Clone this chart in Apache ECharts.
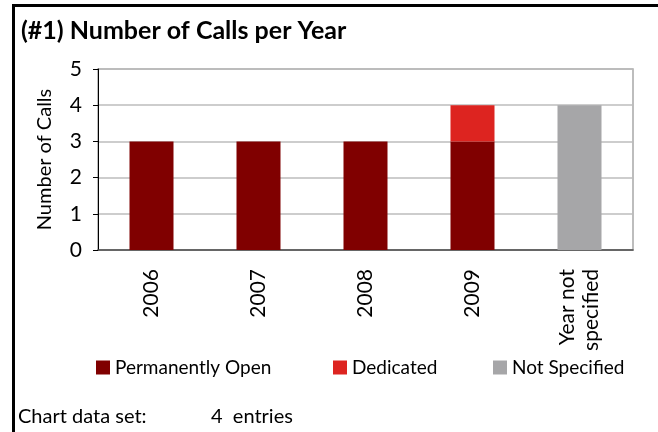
<!DOCTYPE html>
<html>
<head>
<meta charset="utf-8">
<script src="https://cdn.jsdelivr.net/npm/echarts@6/dist/echarts.min.js"></script>
<style>
  html, body { margin: 0; padding: 0; background: #fff; }
  #chart { width: 658px; height: 432px; }
</style>
</head>
<body>
<div id="chart"></div>
<script>
// Calls per year, stacked by call type
const categories = ['2006', '2007', '2008', '2009', 'Year not\nspecified'];
const permanentlyOpen = [3, 3, 3, 3, 0];
const dedicated = [0, 0, 0, 1, 0];
const notSpecified = [0, 0, 0, 0, 4];
const yTicks = [0, 1, 2, 3, 4, 5];
const seriesNames = ['Permanently Open', 'Dedicated', 'Not Specified'];
const entryCount = 4;

const FONT = 'Lato, "Open Sans", sans-serif';
const colors = ['#800000', '#DD2420', '#A6A6A8'];

const chart = echarts.init(document.getElementById('chart'), null, { renderer: 'canvas' });

function legendAt(name, left) {
  return {
    data: [name],
    left: left,
    top: 353,
    icon: 'rect',
    itemWidth: 14,
    itemHeight: 14,
    itemGap: 6,
    textStyle: { fontFamily: FONT, fontSize: 19, color: '#000', padding: [0, 0, 0, 0] },
    selectedMode: false
  };
}

chart.setOption({
  backgroundColor: '#fff',
  animation: false,
  title: {
    text: '(#1) Number of Calls per Year',
    left: 16,
    top: 13,
    textStyle: { fontFamily: FONT, fontSize: 25, fontWeight: 'bold', color: '#000' }
  },
  legend: [
    legendAt(seriesNames[0], 91),
    legendAt(seriesNames[1], 328),
    legendAt(seriesNames[2], 488)
  ],
  grid: {
    left: 98, top: 69, right: 25, bottom: 182,
    show: true, borderColor: '#A8A8A8', borderWidth: 1.5
  },
  xAxis: {
    type: 'category',
    data: categories,
    axisLine: { lineStyle: { color: '#4a4a4a', width: 1.5 } },
    axisTick: { show: false },
    axisLabel: {
      rotate: 90,
      margin: 19,
      fontFamily: FONT,
      fontSize: 21,
      color: '#000',
      lineHeight: 24,
      align: 'right',
      verticalAlign: 'middle'
    }
  },
  yAxis: {
    type: 'value',
    min: yTicks[0],
    max: yTicks[yTicks.length - 1],
    interval: 1,
    name: 'Number of Calls',
    nameLocation: 'middle',
    nameRotate: 90,
    nameGap: 43,
    nameTextStyle: { fontFamily: FONT, fontSize: 20, color: '#000' },
    axisLine: { show: true, lineStyle: { color: '#000', width: 1 } },
    axisTick: { show: true, length: 5, lineStyle: { color: '#000' } },
    axisLabel: { margin: 16, fontFamily: FONT, fontSize: 21, color: '#000' },
    splitLine: { lineStyle: { color: '#BDBDBD', width: 1.5 } }
  },
  series: [
    { name: seriesNames[0], type: 'bar', stack: 'calls', data: permanentlyOpen, barWidth: 44, itemStyle: { color: colors[0] } },
    { name: seriesNames[1], type: 'bar', stack: 'calls', data: dedicated, barWidth: 44, itemStyle: { color: colors[1] } },
    { name: seriesNames[2], type: 'bar', stack: 'calls', data: notSpecified, barWidth: 44, itemStyle: { color: colors[2] } }
  ],
  graphic: [
    // outer frame: heavy rules along the top and left
    { type: 'line', shape: { x1: 12, y1: 5.5, x2: 658, y2: 5.5 }, style: { stroke: '#000', lineWidth: 3 } },
    { type: 'line', shape: { x1: 13.5, y1: 4, x2: 13.5, y2: 432 }, style: { stroke: '#000', lineWidth: 3 } },
    {
      type: 'text', left: 18, top: 407,
      style: { text: 'Chart data set:', font: '20px ' + FONT, fill: '#000' }
    },
    {
      type: 'text', left: 211, top: 407,
      style: { text: entryCount + '  entries', font: '20px ' + FONT, fill: '#000' }
    }
  ]
});
</script>
</body>
</html>
